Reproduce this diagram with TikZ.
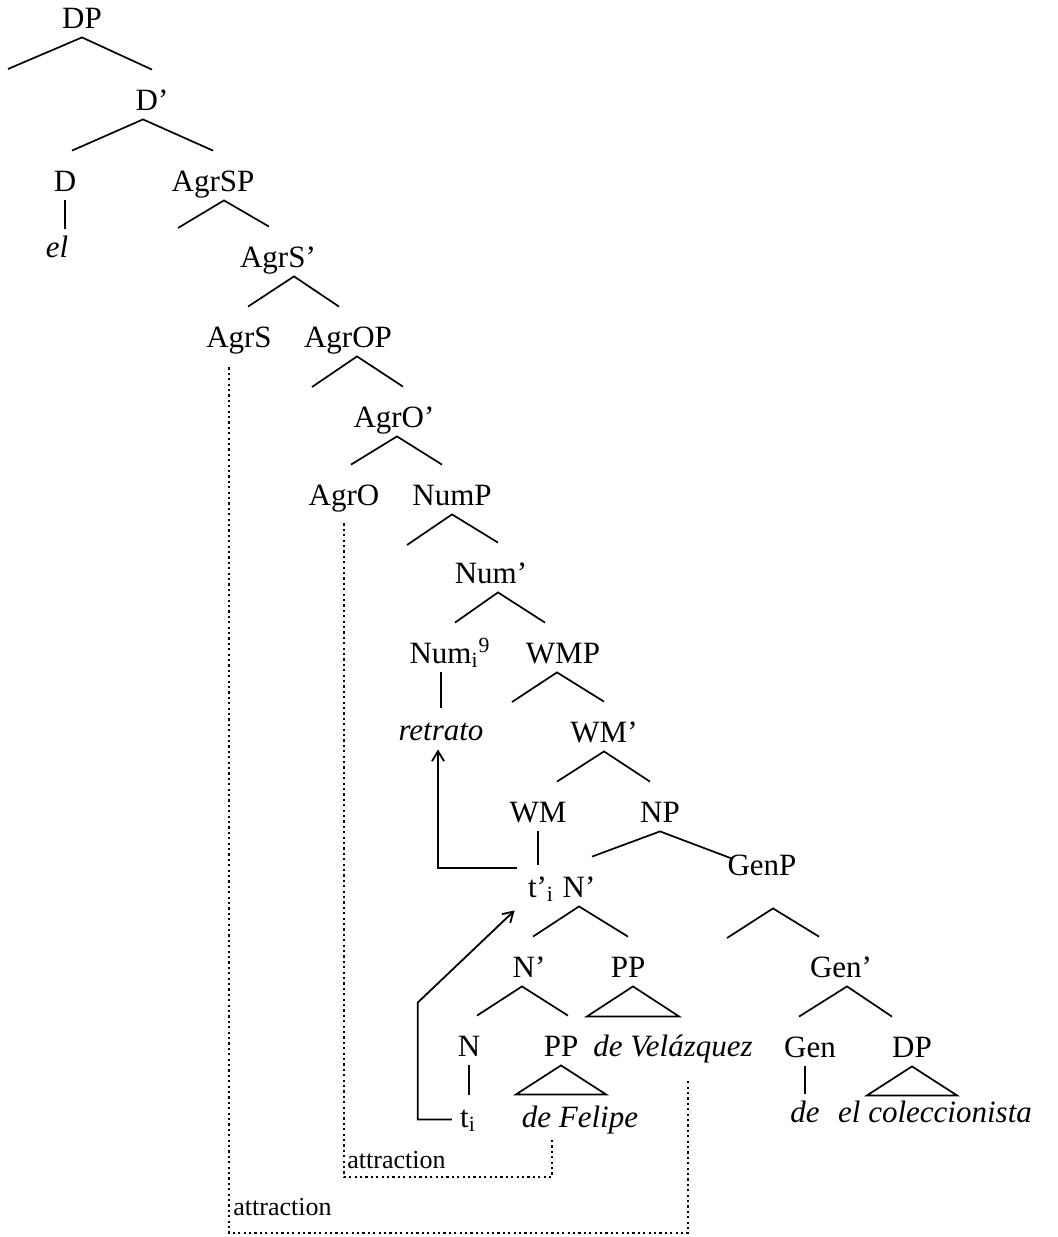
\documentclass[tikz,border=0pt]{standalone}
\usepackage{fontspec}
\setmainfont{Liberation Serif}
\usetikzlibrary{arrows.meta}

\providecommand{\labelsize}{15.5}
\providecommand{\notesize}{13}
\providecommand{\branchthickness}{0.85pt}
\providecommand{\movethickness}{0.9pt}
\providecommand{\attrthickness}{1.2pt}

\begin{document}
\begin{tikzpicture}[
    x=0.5pt, y=-0.5pt,
    % Label styles
    lab/.style={
        font=\fontsize{\labelsize}{18}\selectfont,
        inner sep=0pt,
        anchor=base,
        text height=20pt,
        text depth=4.5pt
    },
    leaf/.style={lab, text height=16pt},
    word/.style={leaf, font=\fontsize{\labelsize}{18}\selectfont\itshape},
    note/.style={
        font=\fontsize{\notesize}{15}\selectfont,
        inner sep=0pt,
        anchor=base west
    },
    % Edge styles
    branch/.style={
        line width=\branchthickness,
        draw=black
    },
    move/.style={
        line width=\movethickness,
        draw=black,
        -{Straight Barb[length=5pt,width=6pt]}
    },
    attr/.style={
        line width=\attrthickness,
        draw=black,
        dash pattern=on 1.1pt off 1.6pt
    }
]

    \useasboundingbox (0,0) rectangle (1057,1237);

    % ==================== UPPER PART: DP down to NumP ====================
    \node[lab] (dp) at (82,28) {DP};
    \node[lab] (dbar) at (152,110) {D’};
    \node[lab] (d) at (65,191) {D};
    \node[lab] (agrsp) at (213,191) {AgrSP};
    \node[word] (el) at (57,257) {el};
    \node[lab] (agrsbar) at (278,267) {AgrS’};
    \node[lab] (agrs) at (239,347) {AgrS};
    \node[lab] (agrop) at (348,347) {AgrOP};
    \node[lab] (agrobar) at (394,427) {AgrO’};
    \node[lab] (agro) at (344,505) {AgrO};
    \node[lab] (nump) at (452,505) {NumP};

    % Empty specifier positions
    \coordinate (dp-spec) at (8,69);
    \coordinate (agrsp-spec) at (178,228);
    \coordinate (agrop-spec) at (312,387);
    \coordinate (nump-spec) at (407,545);

    \draw[branch] (dp-spec) -- (dp.south) -- (dbar.north);
    \draw[branch] ([xshift=3.5pt]d.north) -- ([xshift=-4.5pt]dbar.south) -- (agrsp.north);
    \draw[branch] (d.south) -- ([yshift=-2pt]d.south |- el.north);
    \draw[branch] (agrsp-spec) -- ([xshift=5.5pt]agrsp.south) -- ([xshift=-4.5pt]agrsbar.north);
    \draw[branch] ([xshift=4.5pt]agrs.north) -- ([xshift=8pt]agrsbar.south) -- ([xshift=-4.5pt]agrop.north);
    \draw[branch] (agrop-spec) -- ([xshift=4.5pt]agrop.south) -- ([xshift=4.5pt]agrobar.north);
    \draw[branch] ([xshift=3.5pt]agro.north) -- ([xshift=1.5pt]agrobar.south) -- ([xshift=-5pt]nump.north);

    % ==================== MIDDLE PART: Num' down to NP ====================
    \node[lab] (numbar) at (491,583) {Num’};
    \node[lab] (num) at (450,663) {Num\textsubscript{i}\textsuperscript{9}};
    \node[lab] (wmp) at (563,663) {WMP};
    \node[word] (retrato) at (441,740) {retrato};
    \node[lab] (wmbar) at (604,742) {WM’};
    \node[lab] (wm) at (538,822) {WM};
    \node[lab] (np) at (660,822) {NP};

    \coordinate (wmp-spec) at (512,702);

    \draw[branch] (nump-spec) -- (nump.south) -- ([xshift=3.5pt]numbar.north);
    \draw[branch] ([xshift=2.5pt]num.north) -- ([xshift=3.5pt]numbar.south) -- ([xshift=-9pt]wmp.north);
    \draw[branch] (retrato.north |- num.south) -- (retrato.north);
    \draw[branch] (wmp-spec) -- ([xshift=-3pt]wmp.south) -- (wmbar.north);
    \draw[branch] ([xshift=9.5pt]wm.north) -- (wmbar.south) -- ([xshift=-5pt]np.north);

    % ==================== LOWER PART: N' and GenP ====================
    \node[leaf] (tpr) at (541,897) {t’\textsubscript{i}};
    \node[lab] (nbar) at (579,897) {N’};
    \node[lab] (genp) at (762,875) {GenP};
    \node[lab] (nbarb) at (529,977) {N’};
    \node[lab] (ppa) at (628,977) {PP};
    \node[lab] (genbar) at (841,977) {Gen’};
    \node[lab] (n) at (469,1056) {N};
    \node[lab] (ppb) at (561,1056) {PP};
    \node[word] (velazquez) at (673,1056) {de Velázquez};
    \node[lab] (gen) at (810,1057) {Gen};
    \node[lab] (dpb) at (912,1057) {DP};
    \node[leaf] (ti) at (468,1127) {t\textsubscript{i}};
    \node[word] (felipe) at (580,1127) {de Felipe};
    \node[word] (de) at (805,1122) {de};
    \node[word] (colec) at (935,1122) {el coleccionista};

    \coordinate (genp-spec) at (727,938);

    \draw[branch] (wm.south) -- (wm.south |- tpr.north);
    \draw[branch] ([xshift=6.5pt]nbar.north) -- (np.south) -- ([xshift=-15pt,yshift=-12pt]genp.north);
    \draw[branch] ([xshift=2pt]nbarb.north) -- (nbar.south) -- (ppa.north);
    \draw[branch] ([xshift=4pt]n.north) -- ([xshift=-3.5pt]nbarb.south) -- ([xshift=3.5pt]ppb.north);
    \draw[branch] (n.south) -- (n.south |- ti.north);
    \draw[branch] (genp-spec) -- ([xshift=5.5pt,yshift=-12pt]genp.south) -- ([xshift=-11pt]genbar.north);
    \draw[branch] ([xshift=-5.5pt]gen.north) -- ([xshift=3pt]genbar.south) -- ([xshift=-10pt]dpb.north);
    \draw[branch] (de.north |- gen.south) -- ([yshift=-2pt]de.north);

    % Triangles over phrasal terminals
    \draw[branch] ([xshift=2.5pt]ppa.south) -- ++(23pt,-15pt) -- ++(-46pt,0pt) -- cycle;
    \draw[branch] (ppb.south) -- ++(22.5pt,-14.5pt) -- ++(-45pt,0pt) -- cycle;
    \draw[branch] (dpb.south) -- ++(22.5pt,-14.5pt) -- ++(-45pt,0pt) -- cycle;

    % ==================== MOVEMENT ARROWS ====================
    \draw[move] ([xshift=-4pt,yshift=-2pt]ti.west) -- ++(-17pt,0pt) -- ++(0pt,58.5pt)
        -- ([xshift=-6.5pt,yshift=-2pt]tpr.south west);
    \draw[move] ([xshift=-5.5pt,yshift=-1.5pt]tpr.north west) -| ([xshift=-1.5pt]retrato.south);

    % ==================== ATTRACTION LINES ====================
    \coordinate (attrA) at (552,1177);
    \coordinate (attrB) at (688,1233);

    \draw[attr] ([yshift=-4.5pt]agro.south) |- (attrA) -- ([xshift=-14pt,yshift=-2pt]felipe.south);
    \draw[attr] ([xshift=-5pt,yshift=-5.5pt]agrs.south) |- (attrB) -- ([xshift=7.5pt,yshift=-8pt]velazquez.south);

    \node[note] (attrA-lab) at (347,1168) {attraction};
    \node[note] (attrB-lab) at (233,1215) {attraction};

\end{tikzpicture}
\end{document}
